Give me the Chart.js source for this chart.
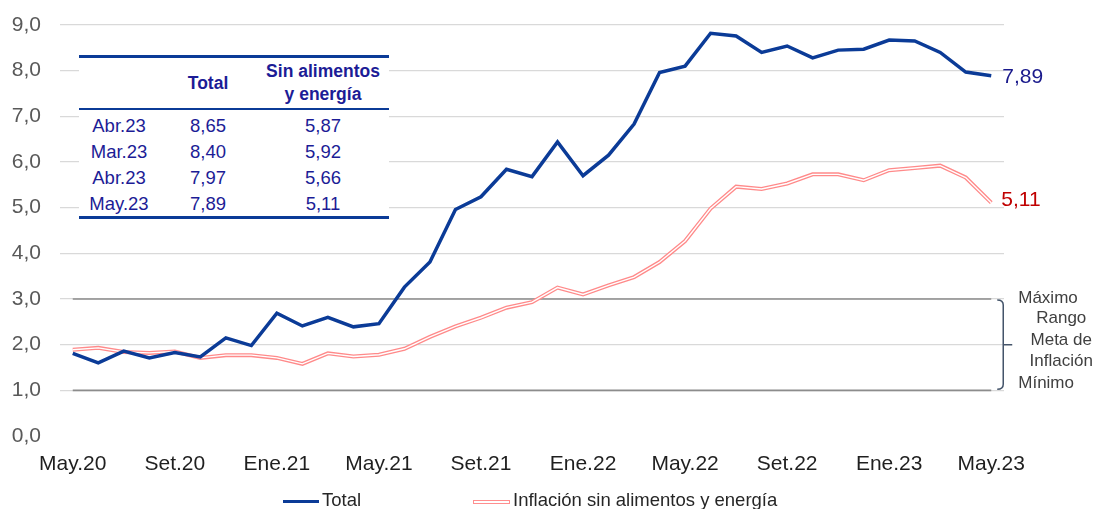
<!DOCTYPE html>
<html>
<head>
<meta charset="utf-8">
<script src="https://cdn.jsdelivr.net/npm/chart.js@4/dist/chart.umd.min.js"></script>
<style>
body { margin:0; background:#fff; font-family:"Liberation Sans", Arial, sans-serif; }
#wrap { position:relative; width:1097px; height:509px; }
#grafico { position:absolute; left:0; top:0; }
#tabla { position:absolute; left:79px; top:55px; width:310px; border-collapse:collapse; color:#1c1c96; font-size:18.5px; background:#fff; }
#tabla th { font-weight:bold; font-size:17.5px; height:50px; line-height:23px; padding:0; text-align:center; border-top:3px solid #0b3b97; border-bottom:2px solid #0b3b97; }
#tabla td { height:26px; padding:0; text-align:center; }
#tabla tr.primera td { padding-top:3px; }
#tabla tr.ultima td { border-bottom:3px solid #0b3b97; height:25px; }
.leyenda { position:absolute; top:489px; font-size:18.5px; color:#262626; }
.muestra { position:absolute; top:11px; width:36px; height:3px; }
</style>
</head>
<body>
<div id="wrap">
  <canvas id="grafico" width="1097" height="509"></canvas>
  <table id="tabla">
    <tr><th style="width:80px"></th><th style="width:98px">Total</th><th>Sin alimentos<br>y energía</th></tr>
    <tr class="primera"><td>Abr.23</td><td>8,65</td><td>5,87</td></tr>
    <tr><td>Mar.23</td><td>8,40</td><td>5,92</td></tr>
    <tr><td>Abr.23</td><td>7,97</td><td>5,66</td></tr>
    <tr class="ultima"><td>May.23</td><td>7,89</td><td>5,11</td></tr>
  </table>
  <div class="leyenda" style="left:283px"><span class="muestra" style="left:0;background:#0b3b97"></span><span style="margin-left:39px">Total</span></div>
  <div class="leyenda" style="left:473px"><span class="muestra" style="left:0;height:2px;background:#fff;border:1px solid #ff8f8f;width:35px"></span><span style="margin-left:40px">Inflación sin alimentos y energía</span></div>
</div>
<script>
// Datos: inflación interanual (%), mayo 2020 - mayo 2023
const meses = ['May.20','Jun.20','Jul.20','Ago.20','Set.20','Oct.20','Nov.20','Dic.20',
  'Ene.21','Feb.21','Mar.21','Abr.21','May.21','Jun.21','Jul.21','Ago.21','Set.21','Oct.21','Nov.21','Dic.21',
  'Ene.22','Feb.22','Mar.22','Abr.22','May.22','Jun.22','Jul.22','Ago.22','Set.22','Oct.22','Nov.22','Dic.22',
  'Ene.23','Feb.23','Mar.23','Abr.23','May.23'];
const total = [1.81,1.60,1.86,1.71,1.83,1.73,2.15,1.98,2.69,2.41,2.60,2.39,2.46,3.26,3.81,4.96,5.24,5.84,5.68,6.44,
  5.70,6.15,6.83,7.96,8.10,8.82,8.76,8.40,8.54,8.28,8.45,8.47,8.67,8.65,8.40,7.97,7.89];
const sinAlimentos = [1.89,1.93,1.84,1.82,1.85,1.71,1.77,1.77,1.71,1.58,1.81,1.74,1.78,1.91,2.17,2.40,2.59,2.81,2.93,3.25,
  3.10,3.30,3.48,3.81,4.27,4.98,5.46,5.41,5.53,5.73,5.73,5.60,5.82,5.87,5.92,5.66,5.11];
const rangoMax = 3;
const rangoMin = 1;
const ticksY = [0,1,2,3,4,5,6,7,8,9];

const fmt = v => Number(v).toFixed(2).replace('.', ',');

// Lineas del rango meta, etiquetas finales y llave del rango
const extras = {
    id: 'extras',
    beforeDatasetsDraw(chart) {
        const { ctx, scales: { x, y } } = chart;
        const x0 = x.getPixelForValue(0);
        const x1 = x.getPixelForValue(meses.length - 1);
        ctx.save();
        ctx.strokeStyle = '#8c8c8c';
        ctx.lineWidth = 1.6;
        [rangoMax, rangoMin].forEach(v => {
            const py = y.getPixelForValue(v);
            ctx.beginPath(); ctx.moveTo(x0, py); ctx.lineTo(x1, py); ctx.stroke();
        });
        ctx.restore();
    },
    afterDatasetsDraw(chart) {
        const { ctx, scales: { x, y } } = chart;
        const ult = meses.length - 1;
        const px = x.getPixelForValue(ult);
        ctx.save();
        ctx.font = '21px "Liberation Sans", Arial, sans-serif';
        ctx.textBaseline = 'middle';
        ctx.textAlign = 'left';
        ctx.fillStyle = '#1a1a8c';
        ctx.fillText(fmt(total[ult]), px + 11, y.getPixelForValue(total[ult]) + 2);
        ctx.fillStyle = '#c00000';
        ctx.fillText(fmt(sinAlimentos[ult]), px + 10, y.getPixelForValue(sinAlimentos[ult]) - 2);

        // llave "}"
        const yA = y.getPixelForValue(rangoMax), yB = y.getPixelForValue(rangoMin);
        const ym = (yA + yB) / 2;
        const bx = px + 12;
        ctx.strokeStyle = '#44546a';
        ctx.lineWidth = 1.5;
        ctx.beginPath();
        ctx.moveTo(bx - 6, yA + 1);
        ctx.quadraticCurveTo(bx, yA + 1, bx, yA + 6);
        ctx.lineTo(bx, yB - 6);
        ctx.quadraticCurveTo(bx, yB - 1, bx - 6, yB - 1);
        ctx.moveTo(bx, ym);
        ctx.lineTo(bx + 9, ym);
        ctx.stroke();

        ctx.font = '17px "Liberation Sans", Arial, sans-serif';
        ctx.fillStyle = '#404040';
        ctx.textAlign = 'left';
        ctx.fillText('Máximo', bx + 15, yA - 1);
        ctx.fillText('Mínimo', bx + 15, yB - 7);
        ctx.textAlign = 'center';
        const cx = bx + 58;
        ctx.fillText('Rango', cx, yA + 19);
        ctx.fillText('Meta de', cx, ym - 4);
        ctx.fillText('Inflación', cx, ym + 17);
        ctx.restore();
    }
};

const ctx = document.getElementById('grafico').getContext('2d');
new Chart(ctx, {
    type: 'line',
    data: {
        labels: meses,
        datasets: [
            { label: 'Total', data: total, borderColor: '#0b3b97', borderWidth: 3.5, pointRadius: 0, tension: 0, order: 1 },
            { label: 'Inflación sin alimentos y energía', data: sinAlimentos, borderColor: '#ff8a8a', borderWidth: 4, pointRadius: 0, tension: 0, order: 3 },
            // linea blanca interior para el efecto de doble linea
            { label: '_interior', data: sinAlimentos, borderColor: '#ffffff', borderWidth: 1.4, pointRadius: 0, tension: 0, order: 2 }
        ]
    },
    options: {
        responsive: false,
        animation: false,
        layout: { padding: { top: 25, right: 93, bottom: 27, left: 0 } },
        plugins: { legend: { display: false }, tooltip: { enabled: false } },
        scales: {
            x: {
                offset: true,
                grid: { display: false, drawTicks: false },
                border: { display: false },
                afterFit: s => { s.height = 46; s.paddingLeft = 0; s.paddingRight = 0; },
                ticks: {
                    autoSkip: false, maxRotation: 0, padding: 16,
                    color: '#1f1f1f',
                    font: { family: '"Liberation Sans", Arial, sans-serif', size: 21 },
                    callback: function(v, i) { return i % 4 === 0 ? meses[i] : ''; }
                }
            },
            y: {
                min: 0, max: 9,
                afterFit: s => { s.width = 60; s.paddingTop = 0; s.paddingBottom = 0; },
                afterBuildTicks: s => { s.ticks = ticksY.map(v => ({ value: v })); },
                grid: {
                    drawTicks: false,
                    color: c => c.tick.value === 0 ? 'rgba(0,0,0,0)' : '#d9d9d9',
                    lineWidth: 1.3
                },
                border: { display: false },
                ticks: {
                    padding: 19,
                    color: '#595959',
                    font: { family: '"Liberation Sans", Arial, sans-serif', size: 21 },
                    callback: v => Number(v).toFixed(1).replace('.', ',')
                }
            }
        }
    },
    plugins: [extras]
});
</script>
</body>
</html>
